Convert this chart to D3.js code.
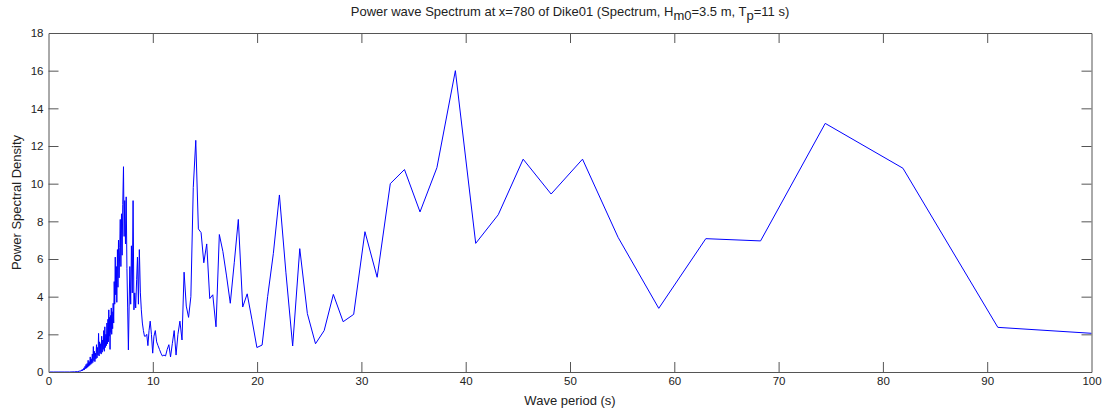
<!DOCTYPE html>
<html>
<head>
<meta charset="utf-8">
<script src="https://cdn.jsdelivr.net/npm/d3@7"></script>
<style>
  body { margin: 0; background: #fff; }
  text { font-family: "Liberation Sans", Arial, sans-serif; fill: #222; }
</style>
</head>
<body>
<div id="chart"></div>
<script>
// wave period (s) and spectral density
var periods = [0.1, 0.5, 1.0, 1.5, 2.0, 2.5, 2.8,
  3.00, 3.05, 3.10, 3.15, 3.20, 3.25, 3.30, 3.35, 3.40, 3.45, 3.50, 3.55, 3.60, 3.65, 3.70, 3.75, 3.80, 3.85, 3.90, 3.95, 4.00, 4.05, 4.10, 4.15, 4.20,
  4.25, 4.30, 4.35, 4.40, 4.45, 4.50, 4.55, 4.60, 4.65, 4.70, 4.75, 4.80, 4.85, 4.90, 4.95, 5.00, 5.05, 5.10, 5.15, 5.20, 5.25, 5.30, 5.35, 5.40, 5.45, 5.50,
  5.55, 5.60, 5.65, 5.70, 5.74, 5.78, 5.82, 5.86, 5.90, 5.94, 5.98, 6.02, 6.06, 6.10, 6.15, 6.20, 6.25,
  6.30, 6.35, 6.40, 6.45, 6.50, 6.55, 6.61, 6.66, 6.71, 6.77, 6.83, 6.88, 6.94, 7.00, 7.06, 7.12, 7.19, 7.25, 7.31, 7.38, 7.45, 7.52, 7.59, 7.66,
  7.73, 7.80, 7.88, 7.95, 8.03, 8.11, 8.19, 8.27, 8.36, 8.45, 8.53, 8.62, 8.71, 8.81, 8.90, 9.00, 9.10, 9.20, 9.31, 9.42, 9.53, 9.64, 9.75, 9.87, 9.99,
  10.11, 10.24, 10.37, 10.50, 10.64, 10.78, 10.92, 11.07, 11.22, 11.38, 11.54, 11.70, 11.87, 12.05, 12.23, 12.41, 12.60, 12.80,
  13.00, 13.21, 13.43, 13.65, 13.88, 14.12, 14.37, 14.63, 14.89, 15.17, 15.46, 15.75, 16.06, 16.38, 16.72, 17.07, 17.43, 17.81,
  18.20, 18.62, 19.05, 19.50, 19.98, 20.48, 21.01, 21.56, 22.14, 22.76, 23.41, 24.09, 24.82, 25.60, 26.43, 27.31, 28.25, 29.26,
  30.34, 31.51, 32.77, 34.13, 35.62, 37.24, 39.01, 40.96, 43.12, 45.51, 48.19, 51.20, 54.61, 58.51, 63.02, 68.27, 74.47, 81.92, 91.02, 102.40]

var psd = [0, 0, 0, 0, 0, 0.01, 0.02,
  0.05, 0.03, 0.08, 0.05, 0.12, 0.07, 0.15, 0.10, 0.22, 0.12, 0.30, 0.18, 0.40, 0.20, 0.45, 0.25, 0.62, 0.30, 0.55, 0.35, 0.80, 0.40, 0.70, 0.45, 0.95,
  0.50, 1.35, 0.60, 1.10, 0.55, 1.00, 0.70, 1.45, 0.75, 1.30, 0.90, 2.05, 0.85, 1.60, 1.00, 1.50, 0.95, 1.90, 1.05, 1.70, 1.20, 2.20, 1.10, 2.40, 1.30, 2.00,
  1.40, 2.60, 1.50, 2.80, 1.60, 3.30, 1.90, 2.90, 1.20, 3.00, 2.10, 3.40, 2.00, 3.20, 2.30, 3.65, 2.60,
  4.8, 3.6, 6.1, 4.1, 5.6, 3.7, 6.5, 4.5, 7.0, 5.0, 6.6, 8.1, 5.6, 8.4, 6.2, 8.9, 10.9, 7.2, 9.1, 6.8, 9.3, 5.5, 3.4, 1.17,
  3.5, 5.6, 3.6, 6.7, 4.2, 9.1, 3.3, 4.2, 3.4, 4.9, 6.1, 3.6, 6.5, 4.2, 3.3, 2.6, 2.2, 1.9, 1.9, 2.0, 1.4, 2.2, 2.7, 2.0, 1.0,
  1.9, 2.2, 1.6, 1.4, 1.2, 1.0, 0.85, 0.9, 0.85, 1.2, 1.45, 0.8, 1.5, 2.2, 0.9, 2.0, 2.7, 1.7,
  5.3, 3.5, 2.9, 4.0, 9.8, 12.3, 7.6, 7.4, 5.8, 6.8, 3.9, 4.1, 2.4, 7.3, 6.4, 5.1, 3.65, 5.8,
  8.1, 3.45, 4.15, 2.8, 1.3, 1.43, 4.0, 6.3, 9.4, 5.3, 1.38, 6.55, 3.1, 1.5, 2.2, 4.12, 2.67, 3.06,
  7.45, 5.03, 10.0, 10.75, 8.5, 10.85, 16.0, 6.83, 8.35, 11.3, 9.45, 11.3, 7.15, 3.38, 7.08, 6.96, 13.2, 10.82, 2.37, 1.97]

var xTicks = [0, 10, 20, 30, 40, 50, 60, 70, 80, 90, 100]
var yTicks = [0, 2, 4, 6, 8, 10, 12, 14, 16, 18]

var WIDTH = 1102, HEIGHT = 410
var MARGIN = {TOP: 33, RIGHT: 10.5, BOTTOM: 38, LEFT: 48.5}
var PLOT_W = WIDTH - MARGIN.LEFT - MARGIN.RIGHT,
    PLOT_H = HEIGHT - MARGIN.TOP - MARGIN.BOTTOM
var TICK = 10, AXIS_COLOR = '#555'

var svg = d3.select('#chart').append('svg')
  .attr('width', WIDTH)
  .attr('height', HEIGHT)

var g = svg.append('g')
  .attr('transform', `translate(${MARGIN.LEFT}, ${MARGIN.TOP})`)

var x = d3.scaleLinear().domain([0, 100]).range([0, PLOT_W])
var y = d3.scaleLinear().domain([0, 18]).range([PLOT_H, 0])

g.append('clipPath').attr('id', 'clip')
  .append('rect').attr('width', PLOT_W).attr('height', PLOT_H)

var data = periods.map(function(p, i){ return {t: p, v: psd[i]} })

g.append('path')
  .datum(data)
  .attr('clip-path', 'url(#clip)')
  .attr('fill', 'none')
  .attr('stroke', '#0000ff')
  .attr('stroke-width', 1)
  .attr('d', d3.line().x(function(d){ return x(d.t) }).y(function(d){ return y(d.v) }))

// matlab style box with inward ticks on all four sides
var xBottom = g.append('g').attr('transform', `translate(0, ${PLOT_H})`)
  .call(d3.axisBottom(x).tickValues(xTicks).tickSizeInner(-TICK).tickSizeOuter(0).tickPadding(5))
var xTop = g.append('g')
  .call(d3.axisTop(x).tickValues(xTicks).tickSizeInner(-TICK).tickSizeOuter(0).tickFormat(''))
var yLeft = g.append('g')
  .call(d3.axisLeft(y).tickValues(yTicks).tickSizeInner(-TICK).tickSizeOuter(0).tickPadding(5))
var yRight = g.append('g').attr('transform', `translate(${PLOT_W}, 0)`)
  .call(d3.axisRight(y).tickValues(yTicks).tickSizeInner(-TICK).tickSizeOuter(0).tickFormat(''))

;[xBottom, xTop, yLeft, yRight].forEach(function(a){
  a.selectAll('.domain').attr('stroke', AXIS_COLOR)
  a.selectAll('.tick line').attr('stroke', AXIS_COLOR)
  a.selectAll('.tick text').style('font-size', '11.5px').attr('fill', '#222')
})
// drop the end ticks that sit on the box
xBottom.selectAll('.tick line').filter(function(d){ return d == 0 || d == 100 }).remove()
xTop.selectAll('.tick line').filter(function(d){ return d == 0 || d == 100 }).remove()
yLeft.selectAll('.tick line').filter(function(d){ return d == 0 || d == 18 }).remove()
yRight.selectAll('.tick line').filter(function(d){ return d == 0 || d == 18 }).remove()

// labels
svg.append('text')
  .attr('x', MARGIN.LEFT + PLOT_W / 2)
  .attr('y', 405)
  .attr('text-anchor', 'middle')
  .style('font-size', '13px')
  .text('Wave period (s)')

svg.append('text')
  .attr('transform', `translate(21, ${MARGIN.TOP + PLOT_H / 2}) rotate(-90)`)
  .attr('text-anchor', 'middle')
  .style('font-size', '13px')
  .text('Power Spectral Density')

var title = svg.append('text')
  .attr('x', MARGIN.LEFT + PLOT_W / 2)
  .attr('y', 16)
  .attr('text-anchor', 'middle')
  .style('font-size', '13px')
title.append('tspan').text('Power wave Spectrum at x=780 of Dike01 (Spectrum, H')
title.append('tspan').attr('dy', 4).text('m0')
title.append('tspan').attr('dy', -4).text('=3.5 m, T')
title.append('tspan').attr('dy', 4).text('p')
title.append('tspan').attr('dy', -4).text('=11 s)')
</script>
</body>
</html>
